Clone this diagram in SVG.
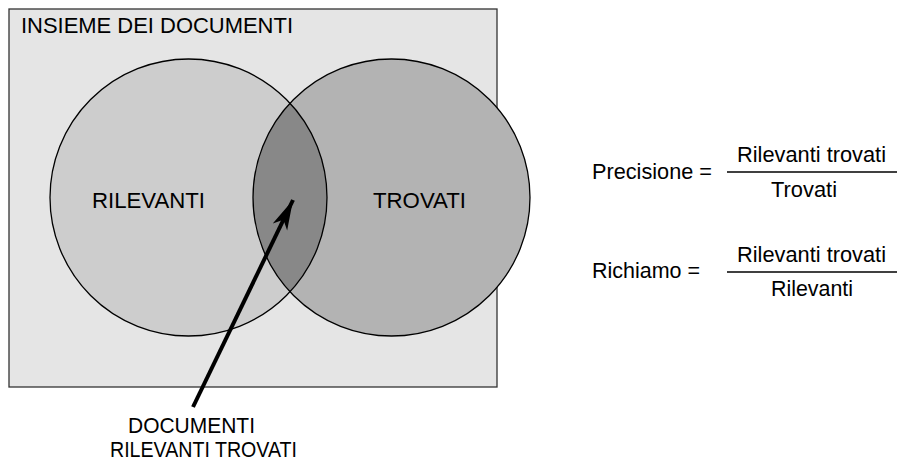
<svg xmlns="http://www.w3.org/2000/svg" width="898" height="465" viewBox="0 0 898 465">
  <style>
    .lbl { font-family: "Liberation Sans", Arial, sans-serif; font-size: 21.5px; fill: #000; }
    .set { stroke: #000; stroke-width: 1.3; }
    .frac { stroke: #000; stroke-width: 1.3; }
  </style>
  <defs>
    <marker id="arrowhead" markerUnits="userSpaceOnUse" markerWidth="34" markerHeight="20" refX="30" refY="8" orient="auto" viewBox="0 0 34 16">
      <path d="M30 8 L0 0 L8 8 L0 16 Z" fill="#000"/>
    </marker>
  </defs>

  <!-- universe of documents -->
  <g id="universe">
    <rect x="9" y="9" width="488" height="378" fill="#e5e5e5" stroke="#333" stroke-width="1.3"/>
    <text class="lbl" x="21" y="33" textLength="272" lengthAdjust="spacingAndGlyphs">INSIEME DEI DOCUMENTI</text>
  </g>

  <!-- relevant set -->
  <g id="rilevanti">
    <circle cx="188.5" cy="197.5" r="138.5" fill="#cdcdcd"/>
    <text class="lbl" x="92" y="208" textLength="113" lengthAdjust="spacingAndGlyphs">RILEVANTI</text>
  </g>

  <!-- retrieved set -->
  <g id="trovati">
    <circle cx="391.5" cy="197.5" r="138.5" fill="#b3b3b3"/>
    <text class="lbl" x="373" y="208" textLength="93" lengthAdjust="spacingAndGlyphs">TROVATI</text>
  </g>

  <!-- intersection: relevant and retrieved -->
  <g id="intersezione">
    <path d="M290 103.3 A138.5 138.5 0 0 1 290 291.7 A138.5 138.5 0 0 1 290 103.3 Z" fill="#888"/>
    <circle class="set" cx="188.5" cy="197.5" r="138.5" fill="none"/>
    <circle class="set" cx="391.5" cy="197.5" r="138.5" fill="none"/>
  </g>

  <!-- connector -->
  <g id="connectors">
    <line x1="193" y1="407" x2="293" y2="200" stroke="#000" stroke-width="4" marker-end="url(#arrowhead)"/>
  </g>

  <g id="label-rilevanti-trovati">
    <text class="lbl" x="128" y="433" textLength="127" lengthAdjust="spacingAndGlyphs">DOCUMENTI</text>
    <text class="lbl" x="110" y="457" textLength="187" lengthAdjust="spacingAndGlyphs">RILEVANTI TROVATI</text>
  </g>

  <!-- precision formula -->
  <g id="precisione">
    <text class="lbl" x="592" y="179" textLength="120" lengthAdjust="spacingAndGlyphs">Precisione =</text>
    <text class="lbl" x="737" y="162" textLength="149" lengthAdjust="spacingAndGlyphs">Rilevanti trovati</text>
    <line class="frac" x1="727" y1="172" x2="897" y2="172"/>
    <text class="lbl" x="771" y="197" textLength="66" lengthAdjust="spacingAndGlyphs">Trovati</text>
  </g>

  <!-- recall formula -->
  <g id="richiamo">
    <text class="lbl" x="592" y="278" textLength="108" lengthAdjust="spacingAndGlyphs">Richiamo =</text>
    <text class="lbl" x="737" y="262" textLength="149" lengthAdjust="spacingAndGlyphs">Rilevanti trovati</text>
    <line class="frac" x1="727" y1="272" x2="897" y2="272"/>
    <text class="lbl" x="771" y="296" textLength="82" lengthAdjust="spacingAndGlyphs">Rilevanti</text>
  </g>
</svg>
